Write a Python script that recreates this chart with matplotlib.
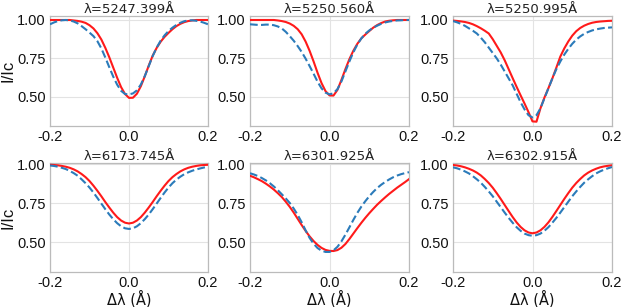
import numpy as np
import matplotlib
matplotlib.use('Agg')
import matplotlib.pyplot as plt

plt.rcParams['axes.unicode_minus'] = False

# sample grid in delta-lambda (A), step 0.01
dlam = np.linspace(-0.2, 0.2, 41)

titles = ['λ=5247.399Å', 'λ=5250.560Å', 'λ=5250.995Å',
          'λ=6173.745Å', 'λ=6301.925Å', 'λ=6302.915Å']

# red solid profiles
red_5247 = [1.0, 1.0, 1.0, 1.0, 1.0, 1.0, .997, .994, .989, .981, .966, .945, .914, .873, .819,
            .758, .691, .624, .563, .518, .493,
            .494, .52, .569, .634, .703, .768, .818, .858, .89, .916, .94, .96, .975, .986,
            .993, .997, 1.0, 1.0, 1.0, 1.0]
red_5250a = [1.0, 1.0, 1.0, 1.0, 1.0, 1.0, 1.0, .997, .993, .987, .977, .962, .94, .907, .859,
             .799, .73, .656, .589, .537, .509,
             .508, .545, .61, .68, .745, .80, .845, .88, .905, .928, .95, .967, .98, .99,
             .995, .998, 1.0, 1.0, 1.0, 1.0]
red_5250b = [.996, .994, .991, .987, .981, .972, .96, .946, .93, .912, .875, .832, .789, .738, .68,
             .622, .565, .51, .456, .40, .34,
             .338, .425, .495, .556, .62, .69, .762, .815, .86, .898, .927, .948, .963, .974,
             .982, .987, .99, .992, .994, .995]
red_6173 = [.9975, .996, .994, .99, .985, .978, .968, .955, .938, .918, .893, .863, .83, .795, .758,
            .723, .69, .661, .639, .625, .62,
            .625, .639, .661, .69, .723, .758, .795, .83, .863, .893, .918, .938, .955, .968,
            .978, .985, .99, .994, .996, .9975]
red_6301 = [.927, .917, .905, .892, .876, .858, .838, .815, .79, .76, .727, .69, .65, .61, .572,
            .537, .507, .482, .463, .45, .444,
            .443, .449, .464, .488, .52, .555, .59, .624, .656, .686, .714, .741, .765, .788,
            .81, .83, .85, .868, .886, .905]
red_6302 = [.996, .993, .988, .981, .972, .961, .947, .929, .906, .88, .85, .815, .778, .739, .70,
            .662, .627, .598, .576, .562, .557,
            .562, .576, .598, .627, .662, .70, .739, .778, .815, .85, .88, .906, .929, .947,
            .961, .972, .981, .987, .991, .994]

# blue dashed profiles
blue_5247 = [.972, .984, .993, .998, 1.0, .997, .99, .978, .96, .94, .918, .895, .862, .815, .756,
             .693, .632, .579, .539, .518, .516,
             .522, .542, .58, .635, .70, .765, .82, .865, .90, .928, .95, .968, .982, .992,
             .997, .998, .995, .99, .982, .972]
blue_5250a = [.972, .97, .968, .968, .97, .97, .966, .958, .945, .923, .895, .865, .83, .792, .748,
              .70, .65, .598, .555, .527, .516,
              .523, .55, .60, .665, .73, .79, .84, .88, .91, .932, .95, .963, .975, .984,
              .99, .994, .997, .998, 1.0, 1.0]
blue_5250b = [.993, .985, .975, .962, .946, .93, .912, .885, .855, .82, .785, .75, .71, .665, .62,
              .575, .52, .465, .418, .38, .366,
              .38, .425, .49, .555, .62, .68, .73, .775, .812, .845, .872, .893, .91, .922,
              .932, .939, .944, .948, .95, .952]
blue_6173 = [.993, .99, .985, .978, .97, .958, .944, .927, .904, .879, .851, .819, .784, .748, .712,
             .678, .648, .622, .602, .589, .585,
             .589, .602, .622, .648, .678, .712, .748, .784, .819, .851, .879, .902, .921, .937,
             .949, .959, .967, .974, .98, .985]
blue_6301 = [.943, .935, .925, .912, .897, .879, .858, .834, .808, .781, .752, .716, .675, .628, .575,
             .527, .49, .462, .445, .437, .437,
             .447, .47, .505, .548, .595, .643, .688, .728, .763, .795, .823, .848, .869, .887,
             .903, .917, .928, .937, .944, .95]
blue_6302 = [.981, .975, .966, .955, .942, .924, .904, .882, .855, .826, .795, .76, .725, .69, .656,
             .625, .596, .573, .555, .545, .541,
             .545, .555, .573, .596, .625, .656, .69, .725, .76, .795, .826, .855, .882, .904,
             .924, .942, .955, .966, .975, .983]

reds = [red_5247, red_5250a, red_5250b, red_6173, red_6301, red_6302]
blues = [blue_5247, blue_5250a, blue_5250b, blue_6173, blue_6301, blue_6302]

W, H = 623, 307
fig = plt.figure(figsize=(W / 100, H / 100), dpi=100)

lefts = [50, 250, 453]
widths = [158, 159, 159]
row_tb = [(16, 126), (163.3, 271.7)]
row_ylim = [(0.31, 1.026), (0.31, 1.007)]

for i in range(6):
    r, c = divmod(i, 3)
    top, bot = row_tb[r]
    ax = fig.add_axes([lefts[c] / W, 1 - bot / H, widths[c] / W, (bot - top) / H])
    ax.plot(dlam, reds[i], color='#ff1a1a', lw=1.5, zorder=3)
    ax.plot(dlam, blues[i], color='#2b7bba', lw=1.5, ls='--', zorder=3)
    ax.set_xlim(-0.2, 0.2)
    ax.set_ylim(*row_ylim[r])
    ax.set_xticks([-0.2, 0.0, 0.2])
    ax.set_xticklabels(['-0.2', '0.0', '0.2'])
    ax.set_yticks([0.5, 0.75, 1.0])
    ax.set_yticklabels(['0.50', '0.75', '1.00'])
    ax.grid(True, color='#e3e3e3', lw=0.8)
    ax.set_axisbelow(True)
    for s in ax.spines.values():
        s.set_color('#bbbbbb')
        s.set_linewidth(0.9)
    ax.tick_params(length=0, pad=3, labelsize=10.5, labelcolor='#111111')
    for lab in ax.get_xticklabels() + ax.get_yticklabels():
        lab.set_family('Liberation Sans')
    ax.set_title(titles[i], fontsize=9.5, pad=2, color='#222222')
    if c == 0:
        ax.set_ylabel('I/Ic', fontsize=12, family='Liberation Sans', labelpad=1, color='#111111')
    if r == 1:
        ax.set_xlabel('Δλ (Å)', fontsize=10.5, family='DejaVu Sans', labelpad=0, color='#111111')

fig.savefig('out.png', dpi=100)
